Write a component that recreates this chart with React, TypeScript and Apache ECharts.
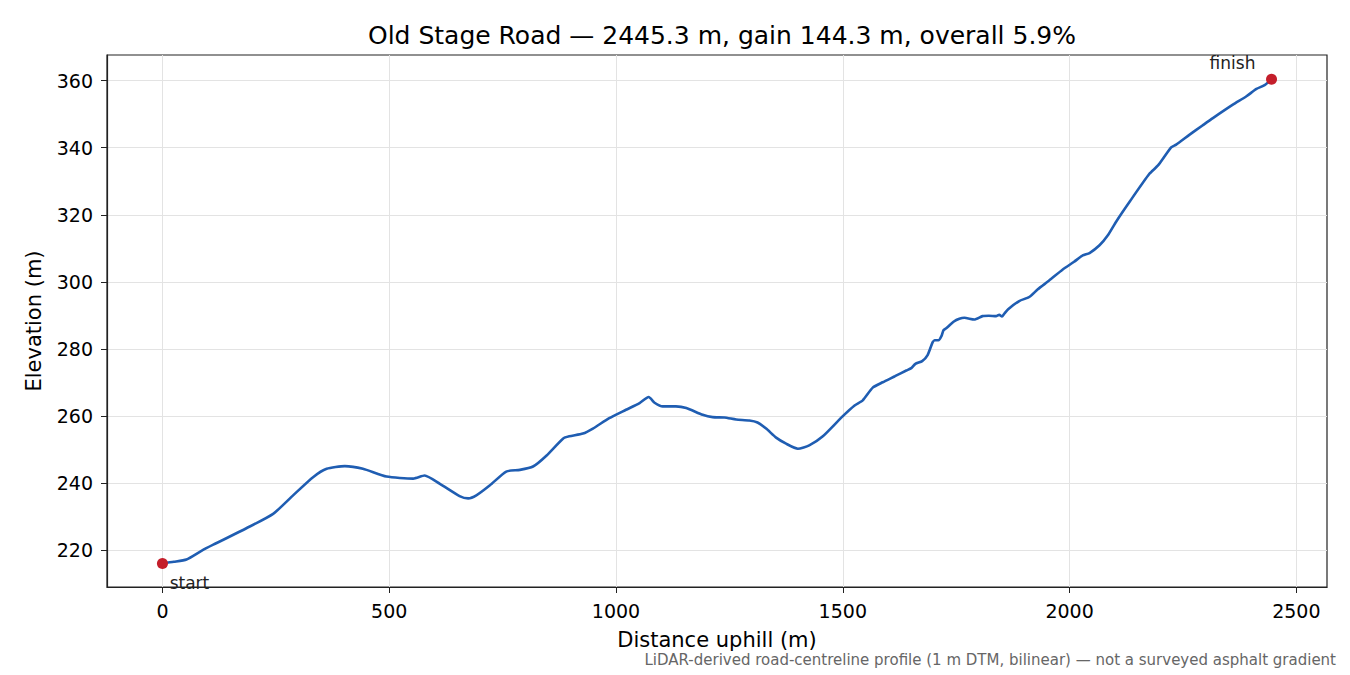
import * as echarts from 'echarts';
import React, { useEffect, useRef } from 'react';

// distance along the road (m) and elevation (m)
const distance: number[] = [
  0, 25, 53, 85, 112, 185, 244, 288, 332, 362, 402, 442, 494, 553, 578, 611, 655, 674, 692, 722,
  758, 788, 817, 847, 883, 897, 927, 949, 985, 1022, 1052, 1072, 1085, 1103, 1132, 1155, 1191,
  1213, 1239, 1265, 1294, 1312, 1331, 1353, 1375, 1401, 1426, 1456, 1500, 1526, 1544, 1566, 1588,
  1615, 1640, 1651, 1660, 1675, 1687, 1698, 1703, 1711, 1718, 1722, 1728, 1745, 1757, 1768, 1790,
  1808, 1822, 1838, 1845, 1851, 1856, 1864, 1889, 1911, 1930, 1955, 1985, 2010, 2029, 2044, 2066,
  2084, 2103, 2132, 2176, 2195, 2224, 2235, 2264, 2293, 2316, 2360, 2390, 2412, 2430, 2445.3,
];
const elevation: number[] = [
  216.1, 216.6, 217.3, 219.8, 221.7, 226.6, 230.9, 236.4, 241.8, 244.3, 245.1, 244.3, 242.0, 241.4,
  242.3, 239.9, 236.2, 235.5, 236.4, 239.4, 243.5, 244.0, 245.0, 248.3, 253.3, 254.0, 254.8, 256.3,
  259.4, 261.9, 263.9, 265.7, 264.0, 262.9, 262.9, 262.4, 260.4, 259.7, 259.6, 259.0, 258.7, 258.1,
  256.3, 253.6, 251.8, 250.3, 251.3, 254.0, 260.0, 263.2, 264.7, 268.5, 270.1, 271.9, 273.6, 274.3,
  275.6, 276.4, 278.2, 282.0, 282.6, 282.6, 284.0, 285.6, 286.2, 288.2, 289.0, 289.3, 288.8, 289.8,
  289.9, 289.8, 290.2, 289.7, 290.5, 291.8, 294.3, 295.5, 297.8, 300.4, 303.7, 306.0, 307.9, 308.6,
  310.9, 313.8, 318.0, 323.8, 332.2, 334.7, 340.1, 340.9, 343.8, 346.6, 348.8, 352.8, 355.3, 357.5,
  358.6, 360.4,
];

const xTicks: number[] = [0, 500, 1000, 1500, 2000, 2500];
const yTicks: number[] = [220, 240, 260, 280, 300, 320, 340, 360];

const FONT = 'DejaVu Sans, sans-serif';

const App: React.FC = () => {
  const chartRef = useRef<HTMLDivElement>(null);

  useEffect(() => {
    document.body.style.margin = '0';
    if (!chartRef.current) return;

    const chart = echarts.init(chartRef.current, undefined, { renderer: 'svg' });

    const profile = distance.map((d, i) => [d, elevation[i]]);
    const last = distance.length - 1;

    const option: echarts.EChartsOption = {
      animation: false,
      backgroundColor: '#fff',
      title: {
        text: 'Old Stage Road — 2445.3 m, gain 144.3 m, overall 5.9%',
        left: 717,
        top: 18,
        textAlign: 'center',
        textStyle: { fontFamily: FONT, fontSize: 25, fontWeight: 'normal', color: '#000' },
      },
      grid: {
        left: 107,
        right: 23,
        top: 55,
        bottom: 88,
        show: true,
        borderColor: '#222',
        borderWidth: 1.2,
      },
      xAxis: {
        type: 'value',
        min: -122.3,
        max: 2567.6,
        name: 'Distance uphill (m)',
        nameLocation: 'middle',
        nameGap: 42,
        nameTextStyle: { fontFamily: FONT, fontSize: 21, color: '#000' },
        axisLine: { show: true, onZero: false, lineStyle: { color: '#222', width: 1.2 } },
        axisTick: { show: true, length: 6, customValues: xTicks, lineStyle: { color: '#222' } },
        axisLabel: {
          customValues: xTicks,
          margin: 14,
          fontFamily: FONT,
          fontSize: 19,
          color: '#000',
          formatter: (v: number) => String(v),
        },
        splitLine: { show: true, lineStyle: { color: '#e3e3e3', width: 1 } },
      },
      yAxis: {
        type: 'value',
        min: 209.1,
        max: 367.6,
        name: 'Elevation (m)',
        nameLocation: 'middle',
        nameGap: 63,
        nameTextStyle: { fontFamily: FONT, fontSize: 21, color: '#000' },
        axisLine: { show: true, onZero: false, lineStyle: { color: '#222', width: 1.2 } },
        axisTick: { show: true, length: 6, customValues: yTicks, lineStyle: { color: '#222' } },
        axisLabel: {
          customValues: yTicks,
          margin: 14,
          fontFamily: FONT,
          fontSize: 19,
          color: '#000',
          formatter: (v: number) => String(v),
        },
        splitLine: { show: true, lineStyle: { color: '#e3e3e3', width: 1 } },
      },
      series: [
        {
          type: 'line',
          data: profile,
          showSymbol: false,
          smooth: 0.2,
          lineStyle: { color: '#1f5db2', width: 2.6 },
          z: 2,
        },
        {
          type: 'scatter',
          symbolSize: 11,
          itemStyle: { color: '#c41e2b', opacity: 1 },
          z: 3,
          data: [
            {
              value: [distance[0], elevation[0]],
              label: {
                show: true,
                formatter: 'start',
                position: 'bottom',
                offset: [27, 0],
                fontFamily: FONT,
                fontSize: 17,
                color: '#222',
              },
            },
            {
              value: [distance[last], elevation[last]],
              label: {
                show: true,
                formatter: 'finish',
                position: 'top',
                offset: [-39, 3],
                fontFamily: FONT,
                fontSize: 17,
                color: '#222',
              },
            },
          ],
        },
      ],
      graphic: [
        {
          type: 'text',
          right: 14,
          top: 652,
          style: {
            text: 'LiDAR-derived road-centreline profile (1 m DTM, bilinear) — not a surveyed asphalt gradient',
            font: `15px ${FONT}`,
            fill: '#666',
          },
        },
      ],
    };

    chart.setOption(option);

    return () => {
      chart.dispose();
    };
  }, []);

  return <div ref={chartRef} style={{ width: '1350px', height: '675px' }} />;
};

export default App;
